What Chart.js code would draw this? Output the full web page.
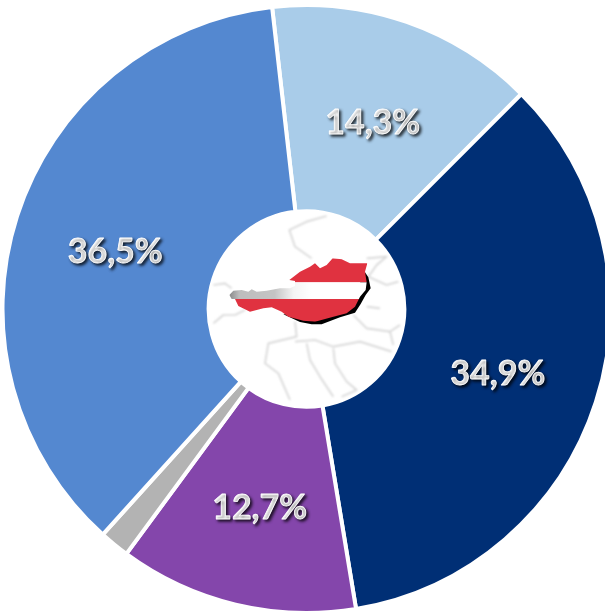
<!DOCTYPE html>
<html><head><meta charset="utf-8">
<script src="https://cdn.jsdelivr.net/npm/chart.js@4"></script>
<style>
html,body{margin:0;padding:0;background:#fff;overflow:hidden;width:605px;height:614px}
#wrap{position:relative;width:605px;height:614px;overflow:hidden}
canvas{position:absolute;left:0;top:0}
#map{position:absolute;left:200px;top:200px;width:215px;height:215px}
</style></head><body>
<div id="wrap">
<canvas id="c" width="613" height="618"></canvas>
<svg id="map" viewBox="0 0 645 645" xmlns="http://www.w3.org/2000/svg">
<defs>
<filter id="b1" x="-20%" y="-20%" width="140%" height="140%"><feGaussianBlur stdDeviation="2.4"/></filter>
<filter id="b2" x="-10%" y="-10%" width="120%" height="120%"><feGaussianBlur stdDeviation="1.2"/></filter>
<filter id="b3" x="-10%" y="-10%" width="120%" height="120%"><feGaussianBlur stdDeviation="0.9"/></filter>
<linearGradient id="g" gradientUnits="userSpaceOnUse" x1="88" y1="0" x2="335" y2="0">
<stop offset="0" stop-color="#8a8a8a"/><stop offset="0.12" stop-color="#bdbdbd"/><stop offset="0.55" stop-color="#c4c4c4"/><stop offset="0.78" stop-color="#f4f4f4"/><stop offset="1" stop-color="#fff"/>
</linearGradient>
<clipPath id="at"><path d="M268 240L300 215L330 200L345 190L360 205L380 195L398 175L425 178L450 190L502 190L495 215L500 247L497 270L480 290L465 320L440 340L400 350L345 365L310 362L265 350L245 335L215 322L190 325L150 335L115 318L105 297L95 297L88 285L100 272L125 270L145 275L155 268L170 275L200 272L240 265L270 265L285 258L285 243Z"/></clipPath>
</defs>
<g fill="none" stroke="#d6d6d6" stroke-width="5" filter="url(#b1)" stroke-linejoin="round">
<path d="M380 48L320 65L268 90L285 140L335 175"/>
<path d="M40 255L75 250L95 265"/>
<path d="M40 370L70 345L105 345L135 330"/>
<path d="M500 175L560 170L530 195L505 230L560 255L595 245"/>
<path d="M460 345L500 385L570 395L600 375"/>
<path d="M570 395L580 435"/>
<path d="M285 365L290 410L205 430L195 490L235 520L270 600"/>
<path d="M285 425L345 420L400 440L480 425L575 455"/>
<path d="M400 445L405 490L440 545L470 570L425 590"/>
<path d="M320 430L330 480L360 530L400 590"/>
<path d="M500 320L540 325"/>
</g>
<path fill="#000" filter="url(#b2)" d="M492 212L505 232L512 265L497 285L482 312L465 338L420 352L365 373L335 373L300 366L250 343L300 340L470 280Z"/>
<g clip-path="url(#at)">
<g filter="url(#b3)">
<rect x="80" y="165" width="430" height="82" fill="#e03040"/>
<rect x="80" y="247" width="430" height="50" fill="url(#g)"/>
<rect x="80" y="297" width="430" height="80" fill="#e03040"/>
</g>
</g>
</svg>
</div>
<script>
const categories = ['Segment A','Segment B','Segment C','Segment D','Segment E'];
const shares = [14.3,34.9,12.7,1.6,36.5];
const valueLabels = ['14,3%','34,9%','12,7%','','36,5%'];
const colors = ['#a9cce9','#002f75','#8446ab','#b3b3b3','#5488d0'];

const labelPlugin = {
  id:'labelPlugin',
  afterDatasetsDraw(chart){
    const ctx = chart.ctx;
    const arcs = chart.getDatasetMeta(0).data;
    ctx.save();
    ctx.font = 'bold 34px Lato, Carlito, sans-serif';
    ctx.textAlign = 'center';
    ctx.textBaseline = 'middle';
    ctx.lineJoin = 'round';
    ctx.lineWidth = 0.8;
    ctx.fillStyle = '#fff';
    ctx.strokeStyle = '#fff';
    ctx.shadowColor = 'rgba(0,0,0,0.8)';
    ctx.shadowBlur = 3;
    ctx.shadowOffsetX = 2;
    ctx.shadowOffsetY = 2;
    arcs.forEach((arc,i)=>{
      if(!valueLabels[i]) return;
      const p = arc.tooltipPosition();
      ctx.fillText(valueLabels[i], p.x, p.y + 4);
      ctx.strokeText(valueLabels[i], p.x, p.y + 4);
    });
    ctx.restore();
  }
};

new Chart(document.getElementById('c'),{
  type:'doughnut',
  data:{labels:categories,datasets:[{data:shares,backgroundColor:colors,borderColor:'#fff',borderWidth:4,borderAlign:'center'}]},
  options:{
    responsive:false,animation:false,
    rotation:-6.5,
    radius:304,cutout:98,
    layout:{padding:0},
    plugins:{legend:{display:false},tooltip:{enabled:false}}
  },
  plugins:[labelPlugin]
});
</script>
</body></html>
